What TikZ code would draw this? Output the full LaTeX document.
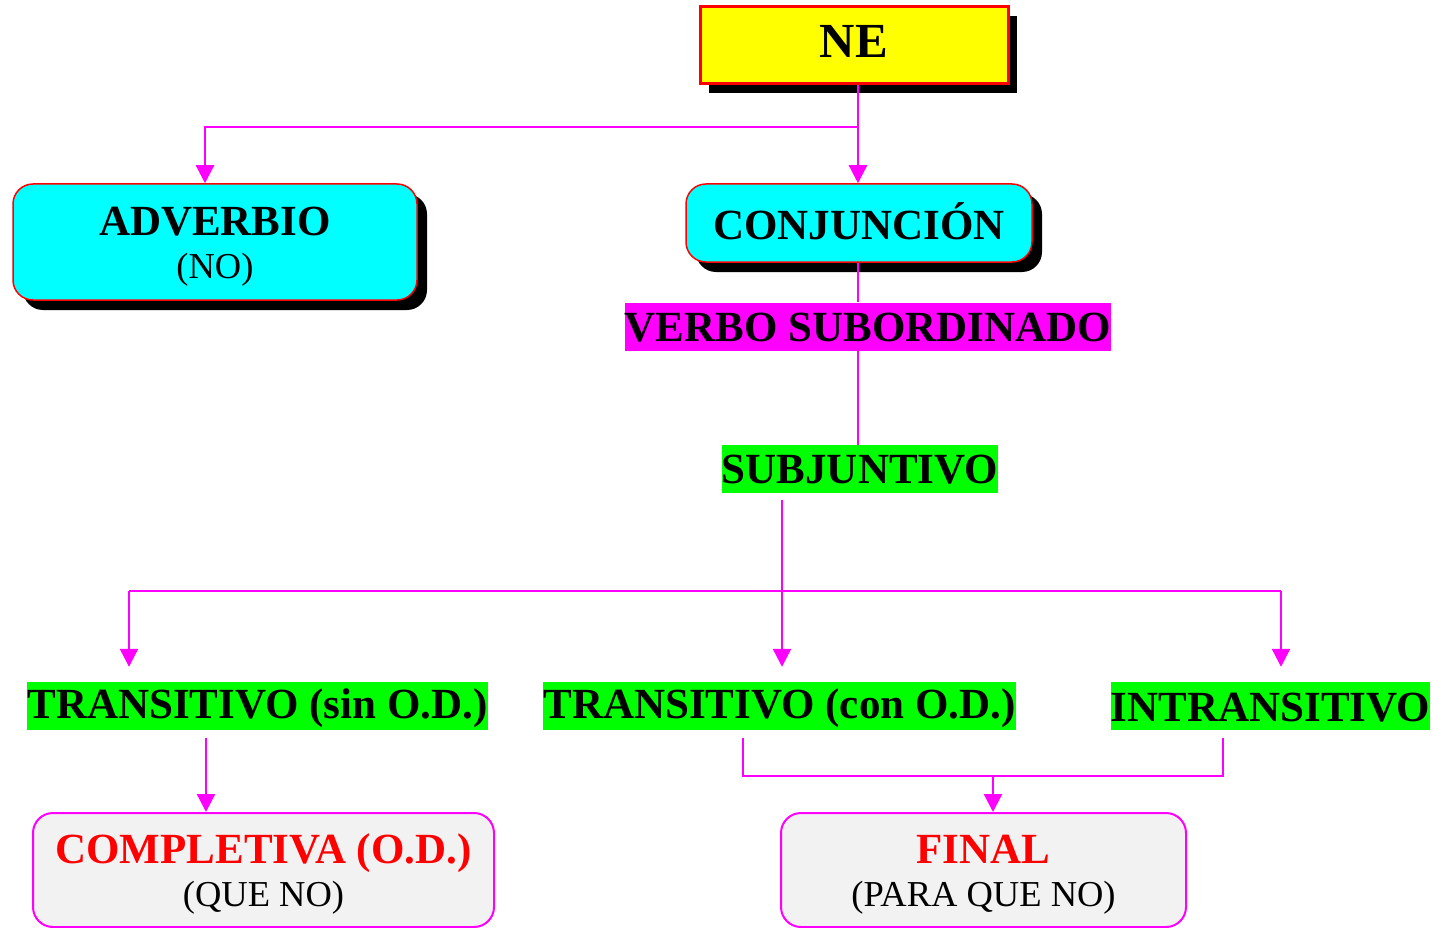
\documentclass[tikz,border=0pt]{standalone}
\usepackage{fontspec}
\setmainfont{Liberation Serif}
\usetikzlibrary{arrows.meta,shadows}
\definecolor{cYel}{HTML}{FFFF00}
\definecolor{cCyan}{HTML}{00FFFF}
\definecolor{cMag}{HTML}{FF00FF}
\definecolor{cGreen}{HTML}{00FF00}
\definecolor{cRed}{HTML}{FF0000}
\definecolor{cGray}{HTML}{F2F2F2}
\newcommand{\bigbf}{\fontsize{43}{47}\selectfont\bfseries}
\newcommand{\smallrm}{\fontsize{36.5}{40}\selectfont\mdseries}
\newcommand{\low}[2]{\raisebox{-#1}[\height][\depth]{#2}}
\tikzset{
  shad/.style={drop shadow={shadow xshift=#1,shadow yshift=-#1,fill=black,opacity=1}},
  nebox/.style={rectangle,fill=cYel,draw=cRed,line width=3pt,shad=9pt,
    minimum width=308pt,minimum height=77pt,inner sep=0pt,font=\fontsize{49}{52}\selectfont\bfseries},
  cybox/.style={rectangle,rounded corners=20pt,fill=cCyan,draw=cRed,line width=1.5pt,shad=10pt,
    inner sep=0pt,font=\bigbf},
  lab/.style={rectangle,fill=#1,inner sep=0pt,minimum height=48pt,font=\bigbf},
  resbox/.style={rectangle,rounded corners=20pt,fill=cGray,draw=cMag,line width=2pt,
    inner sep=0pt,font=\bigbf,text=cRed},
  conn/.style={draw=cMag,line width=2.3pt},
  arr/.style={conn,-{Triangle[width=18pt,length=18pt]}}
}
\begin{document}
\begin{tikzpicture}[x=1pt,y=-1pt]
\useasboundingbox (0,0) rectangle (1432,928);
% nodes
\node[nebox] (ne) at (854,45.5) {\low{-4pt}{NE}};
\node[cybox,minimum width=404pt,minimum height=116pt] (adv) at (215,242)
  {\low{6pt}{\begin{tabular}{@{}c@{}}ADVERBIO\\[-4pt]{\smallrm (NO)}\end{tabular}}};
\node[cybox,minimum width=346pt,minimum height=78pt] (conj) at (859,223) {\low{-2pt}{CONJUNCIÓN}};
\node[lab=cMag,minimum width=484pt] (verbo) at (868,326.5) {\low{1pt}{VERBO SUBORDINADO}};
\node[lab=cGreen,minimum width=276pt] (subj) at (860,469) {\low{1pt}{SUBJUNTIVO}};
\node[lab=cGreen,minimum width=459pt] (t1) at (257.5,706) {\low{2pt}{TRANSITIVO (sin O.D.)}};
\node[lab=cGreen,minimum width=471pt] (t2) at (779.5,706) {\low{2pt}{TRANSITIVO (con O.D.)}};
\node[lab=cGreen,minimum width=319pt] (intr) at (1270.5,706) {\low{2pt}{INTRANSITIVO}};
\node[resbox,minimum width=461pt,minimum height=114pt] (comp) at (263.5,870)
  {\low{6pt}{\begin{tabular}{@{}c@{}}COMPLETIVA (O.D.)\\[-4pt]{\smallrm\color{black}(QUE NO)}\end{tabular}}};
\node[resbox,minimum width=405pt,minimum height=114pt] (final) at (983.5,870)
  {\low{6pt}{\begin{tabular}{@{}c@{}}FINAL\\[-4pt]{\smallrm\color{black}(PARA QUE NO)}\end{tabular}}};
% helper coordinates
\coordinate (j1) at (858,127);
\coordinate (j2) at (205,127);
\coordinate (b0) at (129,591);
\coordinate (b1) at (782,591);
\coordinate (b2) at (1281,591);
\coordinate (c0) at (206,775);
\coordinate (f1) at (743,776);
\coordinate (f0) at (993,776);
\coordinate (f2) at (1223,776);
% connectors
\draw[conn] (ne.south -| j1) -- (j1);
\draw[arr] (j1) -- (conj.north -| j1);
\draw[arr] (j1) -- (j2) -- (adv.north -| j2);
\draw[conn] (conj.south -| j1) -- (verbo.north -| j1);
\draw[conn] (verbo.south -| j1) -- (subj.north -| j1);
\draw[conn] ([yshift=-7pt]subj.south -| b1) -- (b1);
\draw[conn] (b0) -- (b2);
\draw[arr] (b0) -- ([yshift=15pt]t1.north -| b0);
\draw[arr] (b1) -- ([yshift=15pt]t2.north -| b1);
\draw[arr] (b2) -- ([yshift=15pt]intr.north -| b2);
\draw[arr] ([yshift=-8pt]t1.south -| c0) -- (comp.north -| c0);
\draw[conn] ([yshift=-8pt]t2.south -| f1) -- (f1) -- (f2) -- ([yshift=-8pt]intr.south -| f2);
\draw[arr] (f0) -- (final.north -| f0);
\end{tikzpicture}
\end{document}
